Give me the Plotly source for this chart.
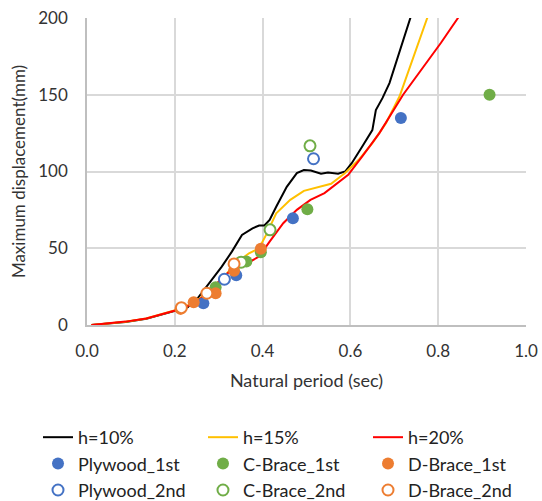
import plotly.graph_objects as go

# h=10% curve
h10_x = [0.01, 0.04, 0.088, 0.135, 0.174, 0.205, 0.229, 0.252, 0.275, 0.307, 0.33, 0.353, 0.377, 0.392, 0.404,
         0.416, 0.431, 0.455, 0.478, 0.494, 0.51, 0.533, 0.549, 0.572, 0.588, 0.603, 0.627, 0.65, 0.658,
         0.673, 0.689, 0.712, 0.736, 0.75]
h10_y = [0, 0.7, 2.0, 4.0, 7.2, 9.8, 11.5, 17.4, 26, 38, 47.8, 58.7, 63, 64.8, 64.8,
         68.5, 77, 90, 99, 101, 100.6, 98.5, 99.3, 98.5, 100, 105.4, 116.3, 127, 140,
         147.8, 157.6, 179, 200, 212]

# h=15% curve
h15_x = [0.01, 0.04, 0.088, 0.135, 0.174, 0.205, 0.244, 0.27, 0.299, 0.338, 0.369, 0.392, 0.408, 0.431,
         0.463, 0.494, 0.525, 0.556, 0.588, 0.619, 0.65, 0.681, 0.712, 0.744, 0.775, 0.79]
h15_y = [0, 0.7, 2.1, 4.2, 7.2, 9.9, 14.3, 20.5, 27, 40, 46.7, 50, 58.7, 72.8,
         81.5, 87.4, 89.8, 92, 99, 107.6, 118.5, 131.5, 149, 175, 200, 210]

# h=20% curve
h20_x = [0.01, 0.041, 0.088, 0.135, 0.174, 0.205, 0.244, 0.275, 0.307, 0.338, 0.369, 0.392, 0.416, 0.447,
         0.478, 0.509, 0.541, 0.572, 0.595, 0.627, 0.666, 0.72, 0.767, 0.806, 0.845, 0.86]
h20_y = [0, 0.7, 2.2, 4.3, 7.2, 9.8, 14.1, 20.7, 30.4, 38, 40.9, 44.6, 54.3, 66.3,
         75, 81.5, 85.9, 92.4, 97.8, 109.8, 125, 150, 168.5, 183.7, 200, 206]

# Test results
ply1_x = [0.265, 0.340, 0.469, 0.715]
ply1_y = [14.1, 32.4, 69.6, 134.8]
cb1_x = [0.293, 0.363, 0.396, 0.502, 0.917]
cb1_y = [24.6, 41.3, 47.4, 75.4, 150]
db1_x = [0.213, 0.243, 0.293, 0.335, 0.396]
db1_y = [10.5, 14.8, 20.7, 35.4, 49.6]
ply2_x = [0.313, 0.516]
ply2_y = [29.8, 108.3]
cb2_x = [0.351, 0.417, 0.508]
cb2_y = [40.9, 62.0, 116.7]
db2_x = [0.215, 0.273, 0.335]
db2_y = [11.3, 20.7, 39.8]

x_ticks = [0.0, 0.2, 0.4, 0.6, 0.8, 1.0]
y_ticks = [0, 50, 100, 150, 200]

BLUE = "#4472C4"
GREEN = "#70AD47"
ORANGE = "#ED7D31"

fig = go.Figure()
for name, xs, ys, col, lg in [("h=10%", h10_x, h10_y, "#000000", "legend"),
                              ("h=15%", h15_x, h15_y, "#FFC000", "legend2"),
                              ("h=20%", h20_x, h20_y, "#FF0000", "legend3")]:
    fig.add_trace(go.Scatter(x=xs, y=ys, mode="lines", name=name, legend=lg,
                             line=dict(color=col, width=2)))

for name, xs, ys, col, lg in [("Plywood_1st", ply1_x, ply1_y, BLUE, "legend"),
                              ("C-Brace_1st", cb1_x, cb1_y, GREEN, "legend2"),
                              ("D-Brace_1st", db1_x, db1_y, ORANGE, "legend3")]:
    fig.add_trace(go.Scatter(x=xs, y=ys, mode="markers", name=name, legend=lg,
                             marker=dict(color=col, size=12, line=dict(width=0))))

for name, xs, ys, col, lg in [("Plywood_2nd", ply2_x, ply2_y, BLUE, "legend"),
                              ("C-Brace_2nd", cb2_x, cb2_y, GREEN, "legend2"),
                              ("D-Brace_2nd", db2_x, db2_y, ORANGE, "legend3")]:
    fig.add_trace(go.Scatter(x=xs, y=ys, mode="markers", name=name, legend=lg,
                             marker=dict(color="white", size=11, line=dict(color=col, width=2))))

FONT = "Lato, Carlito, Calibri, sans-serif"
legend_common = dict(orientation="v", xref="paper", yref="container", xanchor="left",
                     y=0.1637, yanchor="top", bgcolor="rgba(0,0,0,0)",
                     font=dict(family=FONT, size=18, color="#222222"),
                     tracegroupgap=0, itemwidth=30)
fig.update_layout(
    width=542, height=501,
    margin=dict(l=87, r=16, t=18, b=176),
    plot_bgcolor="white", paper_bgcolor="white",
    font=dict(family=FONT, size=16, color="#333333"),
    showlegend=True,
    legend=dict(x=-0.1116, **legend_common),
    legend2=dict(x=0.2642, **legend_common),
    legend3=dict(x=0.6401, **legend_common),
)
fig.update_xaxes(range=[0, 1.0], tickvals=x_ticks, tickformat=".1f", automargin=False,
                 showgrid=True, gridcolor="#D9D9D9", gridwidth=1.5,
                 showline=True, linecolor="#BFBFBF", linewidth=1.5, mirror=False,
                 zeroline=False, ticks="", ticklen=0, ticklabelstandoff=10,
                 title=dict(text="Natural period (sec)", font=dict(size=18, family=FONT), standoff=14),
                 tickfont=dict(size=17, family=FONT, color="#333333"))
fig.update_yaxes(range=[0, 200], tickvals=y_ticks, automargin=False,
                 showgrid=True, gridcolor="#D9D9D9", gridwidth=1.5,
                 showline=True, linecolor="#BFBFBF", linewidth=1.5,
                 zeroline=False, ticks="", ticklen=0, ticklabelstandoff=14,
                 title=dict(text="Maximum displacement(mm)", font=dict(size=17, family=FONT), standoff=8),
                 tickfont=dict(size=17, family=FONT, color="#333333"))

fig.write_html("out.html")
